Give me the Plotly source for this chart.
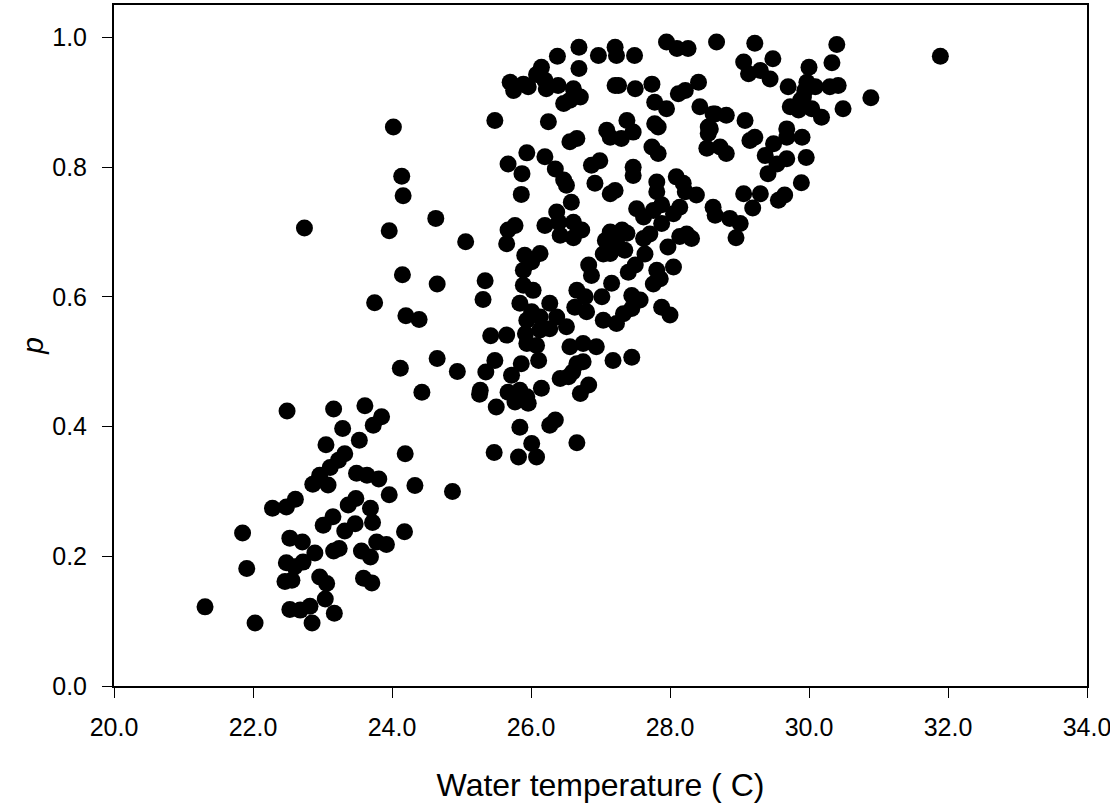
import plotly.graph_objects as go

# Water temperature (C) and p
temp_lower = [21.31, 21.85, 21.91, 22.03, 22.28, 22.48, 22.61, 22.49, 22.53, 22.71, 22.48, 22.60, 22.72,
              22.46, 22.56, 22.53, 22.68, 22.82, 22.85, 22.89, 22.86, 22.96, 23.08, 22.96, 23.06, 23.04,
              23.17, 23.15, 23.01, 23.16, 23.24, 23.05, 23.11, 23.23, 23.32, 23.29, 23.16, 23.53, 23.61,
              23.73, 23.85, 23.49, 23.64, 23.81, 23.48, 23.37, 23.69, 23.72, 23.47, 23.32, 23.56, 23.69,
              23.78, 23.92, 23.59, 23.71, 23.96, 24.19, 24.18, 24.33, 24.43, 24.87]
p_lower = [0.122, 0.236, 0.181, 0.097, 0.274, 0.276, 0.288, 0.424, 0.228, 0.222, 0.190, 0.184, 0.191,
           0.161, 0.163, 0.118, 0.117, 0.123, 0.097, 0.205, 0.311, 0.325, 0.310, 0.168, 0.158, 0.134,
           0.112, 0.261, 0.248, 0.208, 0.212, 0.372, 0.337, 0.348, 0.358, 0.397, 0.427, 0.379, 0.432,
           0.402, 0.415, 0.328, 0.325, 0.319, 0.289, 0.279, 0.274, 0.252, 0.250, 0.239, 0.208, 0.199,
           0.222, 0.218, 0.166, 0.159, 0.295, 0.358, 0.238, 0.309, 0.453, 0.300]

temp_mid = [24.02, 25.48, 24.14, 24.16, 22.74, 23.96, 24.63, 25.06, 24.15, 24.65, 25.34, 25.31, 23.75,
            24.20, 24.39, 25.42, 25.48, 25.35, 24.12, 24.65, 24.94, 25.27,
            25.26, 25.50, 25.84, 25.47, 25.82, 26.01, 26.08, 26.35, 26.27, 26.66, 26.15, 25.72, 25.86,
            25.67, 25.84, 25.94, 25.77, 25.96, 26.11, 25.94, 26.08, 25.92, 25.65, 26.42, 26.54, 26.71,
            26.83, 27.18, 27.45, 26.56, 26.75, 26.94, 26.66, 26.75, 26.60]
p_mid = [0.862, 0.872, 0.786, 0.756, 0.706, 0.702, 0.721, 0.685, 0.634, 0.620, 0.625, 0.596, 0.591,
         0.571, 0.565, 0.540, 0.502, 0.484, 0.490, 0.505, 0.485, 0.456,
         0.450, 0.430, 0.399, 0.360, 0.353, 0.374, 0.353, 0.410, 0.402, 0.375, 0.459, 0.479, 0.497,
         0.453, 0.456, 0.446, 0.438, 0.436, 0.502, 0.528, 0.525, 0.543, 0.541, 0.474, 0.477, 0.451,
         0.464, 0.502, 0.507, 0.523, 0.528, 0.523, 0.497, 0.500, 0.484]

temp_band = [25.67, 25.87, 25.86, 25.94, 26.20, 26.35, 26.47, 26.51, 26.87, 26.99, 26.92, 27.14, 27.21,
             27.47, 27.47, 27.81, 27.81, 28.09, 28.19, 27.52, 27.62, 27.76, 27.88, 28.05, 28.14, 26.37,
             26.40, 26.58, 26.61, 26.73, 26.61, 26.42, 26.20, 25.77, 25.67, 25.65, 27.14, 27.31, 27.38,
             27.07, 27.23, 27.62, 27.71, 27.88, 28.24, 28.14, 27.97, 25.91, 26.13, 26.01, 25.89, 26.83,
             26.87, 27.04, 27.14, 27.35, 27.50, 27.40, 27.64, 27.16, 27.81, 28.05, 27.76, 27.86, 25.89,
             26.03, 25.84, 26.01, 26.27, 26.66, 26.78, 27.02, 27.45, 27.57, 26.63, 26.80, 27.88, 28.00,
             27.04, 27.23, 27.33, 27.45, 25.94, 26.13, 26.37, 26.51, 26.13, 26.27]
p_band = [0.805, 0.790, 0.758, 0.822, 0.816, 0.797, 0.780, 0.772, 0.803, 0.810, 0.775, 0.759, 0.764,
          0.800, 0.787, 0.777, 0.762, 0.785, 0.775, 0.736, 0.723, 0.733, 0.742, 0.728, 0.738, 0.731,
          0.715, 0.746, 0.715, 0.703, 0.691, 0.695, 0.710, 0.710, 0.703, 0.682, 0.700, 0.703, 0.698,
          0.687, 0.685, 0.690, 0.697, 0.713, 0.697, 0.693, 0.677, 0.664, 0.667, 0.654, 0.641, 0.649,
          0.633, 0.666, 0.667, 0.672, 0.649, 0.638, 0.666, 0.621, 0.641, 0.646, 0.620, 0.628, 0.618,
          0.610, 0.590, 0.577, 0.590, 0.610, 0.600, 0.600, 0.602, 0.595, 0.584, 0.577, 0.584, 0.572,
          0.564, 0.559, 0.574, 0.582, 0.564, 0.569, 0.569, 0.554, 0.549, 0.551]

temp_upper = [26.25, 26.66, 26.56, 27.09, 27.14, 27.38, 27.47, 27.30, 27.74, 27.83, 27.78, 27.83, 27.78,
              27.95, 27.74, 27.50, 27.21, 27.26, 26.69, 26.69, 26.38, 26.15, 26.08, 26.20, 26.22, 26.39,
              25.70, 25.75, 25.89, 25.96, 26.61, 26.71, 26.47, 26.56, 26.97, 27.21, 27.23, 27.49, 27.95,
              28.10, 28.26, 28.67, 28.41, 28.22, 28.12, 28.43, 28.62, 28.55, 28.55, 28.53]
p_upper = [0.870, 0.844, 0.839, 0.857, 0.846, 0.872, 0.854, 0.844, 0.831, 0.821, 0.867, 0.862, 0.900,
           0.890, 0.928, 0.921, 0.926, 0.926, 0.952, 0.985, 0.971, 0.954, 0.943, 0.934, 0.921, 0.926,
           0.931, 0.918, 0.928, 0.924, 0.921, 0.908, 0.898, 0.903, 0.972, 0.985, 0.972, 0.972, 0.993,
           0.983, 0.983, 0.993, 0.931, 0.918, 0.913, 0.893, 0.882, 0.862, 0.852, 0.829]

temp_right = [29.22, 29.48, 29.06, 29.13, 29.30, 29.44, 30.40, 30.33, 30.00, 29.70, 29.97, 29.94, 29.92,
              30.09, 30.30, 30.42, 30.49, 30.89, 29.88, 30.04, 30.18, 29.73, 29.85, 28.65, 28.81, 29.08,
              28.58, 28.72, 28.81, 29.22, 29.15, 29.49, 29.68, 29.90, 29.68, 29.37, 29.68, 29.96,
              29.54, 29.41, 29.89, 29.06, 29.30, 29.19, 29.56, 29.65, 28.22, 28.38, 28.62, 28.65,
              28.86, 29.01, 28.95, 28.31, 31.89]
p_right = [0.991, 0.967, 0.962, 0.944, 0.949, 0.936, 0.989, 0.961, 0.954, 0.924, 0.931, 0.918, 0.908,
           0.924, 0.924, 0.926, 0.890, 0.907, 0.903, 0.890, 0.877, 0.893, 0.888, 0.882, 0.880, 0.872,
           0.859, 0.831, 0.821, 0.846, 0.841, 0.836, 0.859, 0.846, 0.846, 0.818, 0.813, 0.815,
           0.805, 0.790, 0.776, 0.759, 0.759, 0.737, 0.749, 0.757, 0.762, 0.757, 0.738, 0.726,
           0.721, 0.713, 0.691, 0.690, 0.971]

temperature = temp_lower + temp_mid + temp_band + temp_upper + temp_right
p_values = p_lower + p_mid + p_band + p_upper + p_right

x_ticks = [20, 22, 24, 26, 28, 30, 32, 34]
y_ticks = [0.0, 0.2, 0.4, 0.6, 0.8, 1.0]

fig = go.Figure()
fig.add_trace(go.Scatter(
    x=temperature, y=p_values, mode="markers",
    marker=dict(size=17, color="black", line=dict(width=0)),
    showlegend=False, cliponaxis=False,
))

font_family = "Liberation Sans, Arial, sans-serif"
axis_common = dict(
    showline=True, linecolor="black", linewidth=2, mirror=True,
    ticks="outside", ticklen=10, tickwidth=1, tickcolor="black",
    showgrid=False, zeroline=False, automargin=False,
    tickfont=dict(family=font_family, size=25, color="black"),
    ticklabeloverflow="allow",
)

fig.update_layout(
    width=1110, height=803,
    margin=dict(l=114, r=23, t=5, b=117),
    plot_bgcolor="white", paper_bgcolor="white",
    xaxis=dict(range=[20, 34], tickvals=x_ticks, tickformat=".1f", ticklabelstandoff=8,
               title=dict(text="Water temperature ( C)", font=dict(family=font_family, size=32, color="black"),
                          standoff=34),
               **axis_common),
    yaxis=dict(range=[0, 1.05], tickvals=y_ticks, tickformat=".1f", ticklabelstandoff=10,
               title=dict(text="<i>p</i>", font=dict(family=font_family, size=30, color="black"),
                          standoff=0),
               **axis_common),
)

fig.write_html("out.html")
